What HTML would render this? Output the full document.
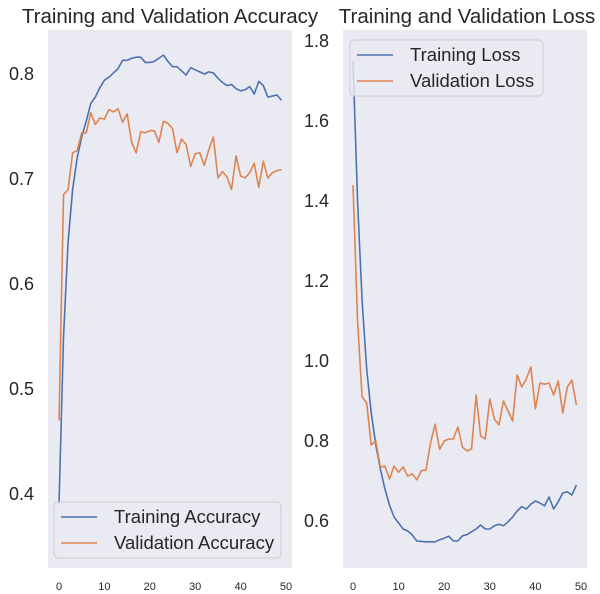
<!DOCTYPE html>
<html><head><meta charset="utf-8"><style>body{margin:0;background:#fff}svg{display:block;font-family:"Liberation Sans","DejaVu Sans",sans-serif}</style></head>
<body>
<svg id="c" width="600" height="594"></svg>
<script>
const epochs=[...Array(50).keys()];
const trainAcc=[0.39,0.55,0.64,0.69,0.72,0.74,0.755,0.772,0.778,0.787,0.794,0.797,0.801,0.805,0.813,0.813,0.815,0.816,0.816,0.811,0.811,0.812,0.815,0.818,0.812,0.807,0.807,0.803,0.799,0.806,0.804,0.802,0.800,0.802,0.801,0.796,0.792,0.789,0.790,0.786,0.784,0.785,0.788,0.781,0.793,0.789,0.778,0.779,0.780,0.775];
const valAcc=[0.47,0.685,0.69,0.725,0.727,0.744,0.744,0.763,0.752,0.758,0.757,0.766,0.764,0.767,0.754,0.762,0.735,0.725,0.745,0.744,0.746,0.746,0.735,0.755,0.753,0.748,0.725,0.738,0.733,0.712,0.724,0.725,0.713,0.728,0.740,0.701,0.707,0.702,0.690,0.722,0.703,0.701,0.706,0.715,0.692,0.717,0.701,0.706,0.708,0.709];
const trainLoss=[1.75,1.40,1.15,0.98,0.87,0.79,0.73,0.68,0.64,0.61,0.595,0.58,0.575,0.565,0.55,0.549,0.548,0.548,0.548,0.553,0.557,0.562,0.550,0.550,0.563,0.566,0.573,0.580,0.590,0.580,0.580,0.588,0.592,0.588,0.598,0.610,0.625,0.636,0.630,0.642,0.650,0.645,0.638,0.660,0.630,0.648,0.670,0.673,0.665,0.690];
const valLoss=[1.44,1.10,0.91,0.895,0.79,0.80,0.735,0.737,0.705,0.737,0.722,0.735,0.712,0.718,0.703,0.726,0.727,0.795,0.842,0.779,0.800,0.805,0.805,0.835,0.785,0.775,0.780,0.915,0.812,0.805,0.905,0.855,0.840,0.900,0.875,0.850,0.965,0.935,0.955,0.985,0.880,0.945,0.942,0.945,0.915,0.950,0.870,0.935,0.952,0.890];
const xTicks=[0,10,20,30,40,50];
const accTicks=[0.4,0.5,0.6,0.7,0.8];
const lossTicks=[0.6,0.8,1.0,1.2,1.4,1.6,1.8];
const NS="http://www.w3.org/2000/svg",svg=document.getElementById('c');
function mk(t,a,p){const e=document.createElementNS(NS,t);for(const k in a)e.setAttribute(k,a[k]);(p||svg).appendChild(e);return e;}
function panel(o){
  const g=mk('g',{});
  
  
  const bg=mk('rect',{x:o.L,y:30,width:o.R-o.L,height:538,fill:'#eaeaf2'},g);
  
  
  const X=e=>o.x0+e*o.xs, Y=v=>o.y0-(v-o.v0)*o.ys;
  xTicks.forEach(t=>{const tx=mk('text',{x:X(t),y:590,'font-size':11,'text-anchor':'middle',fill:'#262626'},g);tx.textContent=t;
    
    });
  o.yt.forEach(t=>{const tx=mk('text',{x:o.L-14,y:Y(t)+6,'font-size':18,'text-anchor':'end',fill:'#262626'},g);tx.textContent=t.toFixed(1);
    
    });
  const tt=mk('text',{x:o.tx,y:23,'font-size':20.5,'text-anchor':'middle',fill:'#262626'},g);tt.textContent=o.title;
  
  
  o.series.forEach(s=>{const pl=mk('polyline',{points:epochs.map(e=>X(e)+','+Y(s.d[e])).join(' '),fill:'none',stroke:s.c,'stroke-width':1.6,'stroke-linejoin':'round'},g);
    
    });
  const lg=mk('g',{},g);
  
  
  mk('rect',{x:o.lx,y:o.ly,width:o.lw,height:56,rx:4,fill:'#eaeaf2',stroke:'#cccccc','fill-opacity':0.8},lg);
  o.series.forEach((s,i)=>{const yy=o.ly+15+i*26;
    mk('line',{x1:o.lx+7,x2:o.lx+43,y1:yy,y2:yy,stroke:s.c,'stroke-width':1.6},lg);
    const t=mk('text',{x:o.lx+60,y:yy+6,'font-size':18.5,fill:'#262626'},lg);t.textContent=s.label;
    
    });
}
panel({name:'accuracy-chart',L:48,R:292,x0:59,xs:4.54,y0:179,v0:0.7,ys:1050,yt:accTicks,title:'Training and Validation Accuracy',tx:170,lx:54,ly:502,lw:227,
  series:[{d:trainAcc,c:'#4c72b0',n:'training-accuracy-line',label:'Training Accuracy'},{d:valAcc,c:'#dd8452',n:'validation-accuracy-line',label:'Validation Accuracy'}]});
panel({name:'loss-chart',L:343,R:587,x0:353,xs:4.56,y0:441,v0:0.8,ys:400,yt:lossTicks,title:'Training and Validation Loss',tx:467,lx:350,ly:40,lw:193,
  series:[{d:trainLoss,c:'#4c72b0',n:'training-loss-line',label:'Training Loss'},{d:valLoss,c:'#dd8452',n:'validation-loss-line',label:'Validation Loss'}]});
</script>
</body></html>
